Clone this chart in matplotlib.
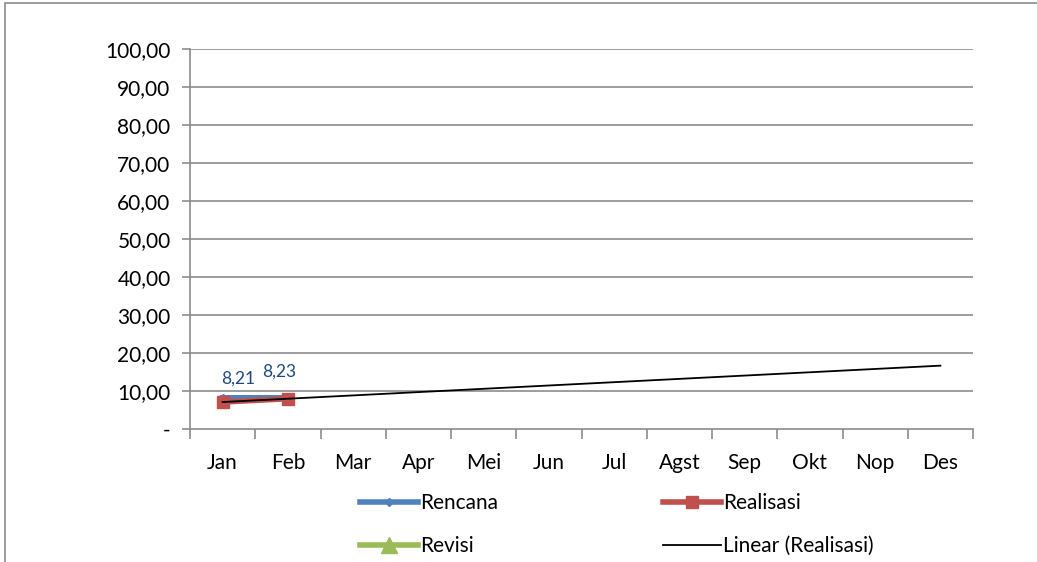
import numpy as np
import matplotlib.pyplot as plt
from matplotlib.patches import Rectangle

# data
bulan = ['Jan', 'Feb', 'Mar', 'Apr', 'Mei', 'Jun', 'Jul', 'Agst', 'Sep', 'Okt', 'Nop', 'Des']
rencana = [8.21, 8.23]
realisasi = [7.10, 7.97]
revisi = []
yticks = [0, 10, 20, 30, 40, 50, 60, 70, 80, 90, 100]

plt.rcParams['font.family'] = ['Lato', 'DejaVu Sans']

fig = plt.figure(figsize=(10.37, 5.62), dpi=100)
ax = fig.add_axes([190 / 1037, 1 - 429 / 562, (973 - 190) / 1037, (429 - 49) / 562])

# bingkai luar
fig.patches.append(Rectangle((5 / 1037, -0.01), 1.02, 1 - 3 / 562 + 0.01,
                             transform=fig.transFigure, fill=False,
                             edgecolor='#8c8c8c', linewidth=1.2))

x = np.arange(len(bulan))
ax.set_xlim(-0.5, len(bulan) - 0.5)
ax.set_ylim(0, 100)

for v in yticks[1:]:
    ax.axhline(v, color='#8c8c8c', linewidth=1.2, zorder=0)

# garis rencana
ax.plot(x[:len(rencana)], rencana, color='#4f81bd', linewidth=4, marker='D',
        markersize=4, zorder=3, label='Rencana')
# garis realisasi
ax.plot(x[:len(realisasi)], realisasi, color='#c0504d', linewidth=4, marker='s',
        markersize=9, zorder=4, label='Realisasi')
ax.plot([], [], color='#9bbb59', linewidth=4, marker='^', markersize=11, label='Revisi')

# trend linear
xr = x[:len(realisasi)]
k, c0 = np.polyfit(xr, realisasi, 1)
ax.plot(x, k * x + c0, color='black', linewidth=1.3, zorder=5, label='Linear (Realisasi)')

# label data
offs = [(11, 8), (-6, 13)]
for i, v in enumerate(rencana):
    ax.annotate(f'{v:.2f}'.replace('.', ','), (x[i], v), xytext=offs[i],
                textcoords='offset points', ha='center', va='bottom',
                fontsize=12.5, color='#1f497d')

ax.set_yticks(yticks)
ax.set_yticklabels(['-'] + [f'{v:.2f}'.replace('.', ',') for v in yticks[1:]], fontsize=15)
ax.set_xticks(x)
ax.set_xticklabels(bulan, fontsize=15)
ax.set_xticks(np.arange(-0.5, len(bulan)), minor=True)
ax.tick_params(axis='x', which='major', length=0, pad=17)
ax.tick_params(axis='x', which='minor', length=7, color='#8c8c8c', width=1.2)
ax.tick_params(axis='y', length=6, color='#8c8c8c', width=1.2, pad=8)

for s in ['top', 'right']:
    ax.spines[s].set_visible(False)
for s in ['left', 'bottom']:
    ax.spines[s].set_color('#8c8c8c')
    ax.spines[s].set_linewidth(1.2)

h, l = ax.get_legend_handles_labels()
order = [0, 2, 1, 3]
fig.legend([h[i] for i in order], [l[i] for i in order], ncol=2,
           loc='upper left', bbox_to_anchor=(360 / 1037, 1 - 493 / 562),
           frameon=False, fontsize=15, handlelength=2.8, handletextpad=0.1,
           columnspacing=7.9, labelspacing=1.1, borderaxespad=0, borderpad=0)

fig.savefig('out.png', dpi=100)
